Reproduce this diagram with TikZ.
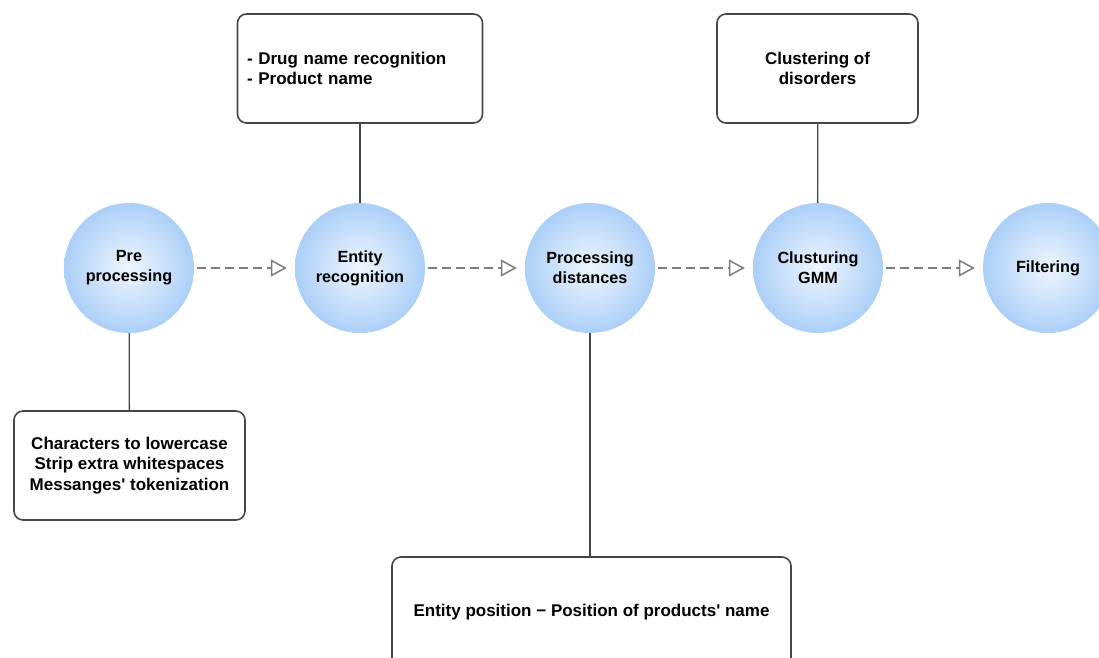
\documentclass[tikz,border=0pt]{standalone}
\usepackage{fontspec}
\setmainfont{Liberation Sans}
\newfontfamily\rawfont{Liberation Sans}
\usetikzlibrary{arrows.meta,positioning}
\definecolor{stageblue}{RGB}{172,207,248}
\definecolor{linegray}{RGB}{70,70,70}
\definecolor{dashgray}{RGB}{125,125,125}

\tikzset{
  stage/.style={circle, minimum size=130pt, inner sep=0pt, inner color=stageblue!20, outer color=stageblue,
    align=center, font=\bfseries\fontsize{16.2}{20}\selectfont},
  note/.style={draw=linegray, line width=1.6pt, rounded corners=9pt, inner sep=0pt,
    minimum height=109pt, align=center, font=\bfseries\fontsize{17}{20.5}\selectfont},
  flow/.style={dashgray, line width=1.6pt, dash pattern=on 9pt off 5pt,
    -{Triangle[open, length=16pt, width=17pt, line width=1.5pt]}, shorten <=3pt, shorten >=8pt},
  link/.style={linegray, line width=1.3pt}
}
\newcommand{\apos}{{\rawfont\bfseries'}}

\begin{document}
\begin{tikzpicture}[x=1pt, y=-1pt]
  \useasboundingbox (0,0) rectangle (1099,657);
  \clip (0,0) rectangle (1099,657);

  % Stages
  \node[stage] (pre) at (129,268) {Pre\\processing};
  \node[stage] (entity) at (360,268) {Entity\\recognition};
  \node[stage] (dist) at (590,268) {Processing\\distances};
  \node[stage] (gmm) at (818,268) {Clusturing\\GMM};
  \node[stage] (filt) at (1048,268) {Filtering};

  % Notes
  \node[note, minimum width=231pt] (prebox) at (129.5,465.5) {Characters to lowercase\\Strip extra whitespaces\\Messanges\apos{} tokenization};
  \node[note, minimum width=245pt, text width=226pt, align=left] (entbox) at (360,68.5) {- Drug name recognition\\- Product name};
  \node[note, minimum width=399pt, minimum height=110pt] (distbox) at (591.5,612) {Entity position − Position of products\apos{} name};
  \node[note, minimum width=201pt] (gmmbox) at (817.5,68.5) {Clustering of\\disorders};

  % Flow
  \draw[flow] (pre) -- (entity);
  \draw[flow] (entity) -- (dist);
  \draw[flow] (dist) -- (gmm);
  \draw[flow] (gmm) -- (filt);

  % Links
  \draw[link] (pre) -- (prebox);
  \draw[link] (entity) -- (entbox);
  \draw[link] (dist.south) -- (distbox.north -| dist.south);
  \draw[link] (gmm) -- (gmmbox);
\end{tikzpicture}
\end{document}
